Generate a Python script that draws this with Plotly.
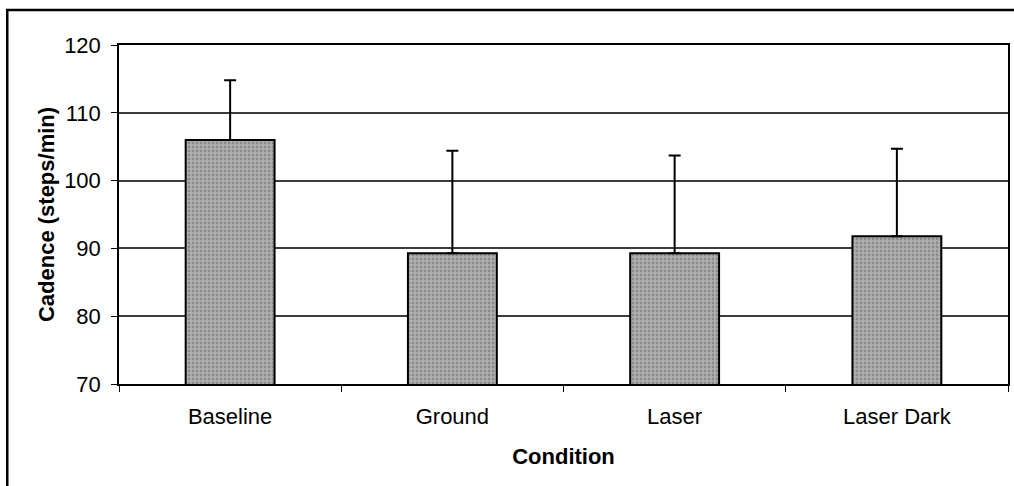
import plotly.graph_objects as go

categories = ["Baseline", "Ground", "Laser", "Laser Dark"]
cadence_mean = [106.0, 89.3, 89.3, 91.8]
cadence_sd = [8.8, 15.1, 14.4, 12.9]
y_ticks = [70, 80, 90, 100, 110, 120]

FONT = "Liberation Sans, Arial, sans-serif"

fig = go.Figure()
fig.add_trace(go.Bar(
    x=categories,
    y=cadence_mean,
    base=0,
    marker=dict(
        color="#a0a0a0",
        line=dict(color="black", width=2),
        pattern=dict(shape=".", fgcolor="#666666", bgcolor="#b0b0b0", size=4, solidity=0.4),
    ),
    error_y=dict(type="data", symmetric=False, array=cadence_sd,
                 arrayminus=[0] * len(cadence_sd),
                 color="black", thickness=2, width=6),
    width=0.4,
    showlegend=False,
))

fig.update_layout(
    width=1014, height=486,
    margin=dict(l=119, r=4, t=45, b=102),
    paper_bgcolor="white", plot_bgcolor="white",
    font=dict(family=FONT, size=22, color="black"),
    xaxis=dict(
        type="category",
        showline=True, linecolor="black", linewidth=1.5, mirror=True,
        ticks="outside", tickson="boundaries", ticklen=6, tickcolor="black",
        showgrid=False,
        tickfont=dict(size=22), ticklabelstandoff=12,
        title=dict(text="<b>Condition</b>", font=dict(size=22), standoff=20),
    ),
    yaxis=dict(
        range=[70, 120], tickvals=y_ticks,
        showline=True, linecolor="black", linewidth=1.5, mirror=True,
        ticks="outside", ticklen=6, tickcolor="black",
        showgrid=True, gridcolor="#3c3c3c", gridwidth=1.5,
        tickfont=dict(size=22), ticklabelstandoff=6,
        title=dict(text="<b>Cadence (steps/min)</b>", font=dict(size=22), standoff=3),
        zeroline=False,
    ),
    shapes=[dict(type="rect", xref="paper", yref="paper",
                 x0=-0.1257, x1=1.2, y0=-0.6, y1=1.1032,
                 line=dict(color="black", width=2.5), layer="above")],
)

fig.write_html("out.html",
               config={"displayModeBar": False},
               post_script="document.body.style.margin='0';document.body.style.overflow='hidden';")
